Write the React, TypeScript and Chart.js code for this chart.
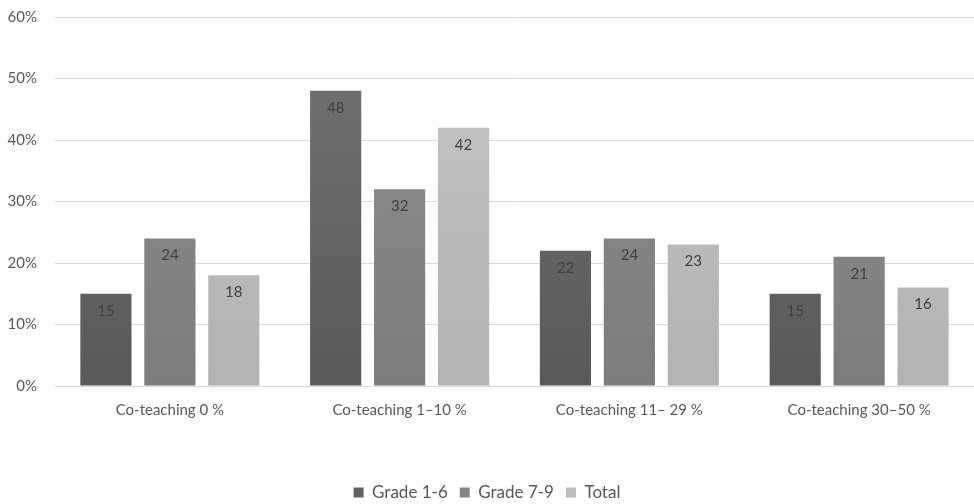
import React, { useEffect, useRef } from "react";
import { Chart, registerables } from "chart.js";

Chart.register(...registerables);

const categories = ["Co-teaching 0 %", "Co-teaching 1\u201310 %", "Co-teaching 11\u2013 29 %", "Co-teaching 30\u201350 %"];
const grade16 = [15, 48, 22, 15];
const grade79 = [24, 32, 24, 21];
const total = [18, 42, 23, 16];
const yTicks = [0, 10, 20, 30, 40, 50, 60];

const FONT = "Lato, 'Open Sans', sans-serif";

function grad(top: string, bottom: string) {
  return (ctx: any) => {
    const chart = ctx.chart;
    const area = chart.chartArea;
    if (!area) return top;
    const g = chart.ctx.createLinearGradient(0, area.top, 0, area.bottom);
    g.addColorStop(0, top);
    g.addColorStop(1, bottom);
    return g;
  };
}

const valueLabels = {
  id: "valueLabels",
  afterDatasetsDraw(chart: any) {
    const ctx = chart.ctx;
    ctx.save();
    ctx.font = `15px ${FONT}`;
    ctx.fillStyle = "#404040";
    ctx.textAlign = "center";
    ctx.textBaseline = "middle";
    chart.data.datasets.forEach((ds: any, i: number) => {
      const meta = chart.getDatasetMeta(i);
      meta.data.forEach((bar: any, j: number) => {
        ctx.fillText(String(ds.data[j]), bar.x, bar.y + 17);
      });
    });
    ctx.restore();
  },
};

export default function App() {
  const ref = useRef<HTMLCanvasElement>(null);
  useEffect(() => {
    if (!ref.current) return;
    const chart = new Chart(ref.current, {
      type: "bar",
      data: {
        labels: categories,
        datasets: [
          { label: "Grade 1-6", data: grade16, backgroundColor: grad("#737373", "#595959") as any },
          { label: "Grade 7-9", data: grade79, backgroundColor: grad("#909090", "#7c7c7c") as any },
          { label: "Total", data: total, backgroundColor: grad("#c6c6c6", "#b2b2b2") as any },
        ],
      },
      options: {
        animation: false,
        responsive: false,
        layout: { padding: { left: 0, right: 0, top: 17, bottom: -7 } },
        datasets: { bar: { categoryPercentage: 0.835, barPercentage: 0.8 } },
        plugins: {
          tooltip: { enabled: false },
          legend: {
            position: "bottom",
            labels: {
              boxWidth: 10,
              boxHeight: 10,
              padding: 12,
              color: "#595959",
              font: { family: FONT, size: 17 },
              generateLabels: (chart: any) => {
                const cols = ["#626262", "#858585", "#bcbcbc"];
                return chart.data.datasets.map((ds: any, i: number) => ({
                  text: ds.label,
                  fillStyle: cols[i],
                  strokeStyle: cols[i],
                  lineWidth: 0,
                  datasetIndex: i,
                  fontColor: "#595959",
                }));
              },
            },
          },
        },
        scales: {
          x: {
            grid: { display: false, drawTicks: false },
            border: { display: true, color: "#d9d9d9" },
            ticks: { color: "#595959", font: { family: FONT, size: 15 }, padding: 15 },
            afterFit: (scale: any) => {
              scale.height += 38;
            },
          },
          y: {
            min: 0,
            max: 60,
            afterBuildTicks: (scale: any) => {
              scale.ticks = yTicks.map((v) => ({ value: v }));
            },
            afterFit: (scale: any) => {
              scale.width = 55;
              scale.paddingTop = 0;
              scale.paddingBottom = 0;
            },
            grid: { color: "#d9d9d9", drawTicks: false },
            border: { display: false },
            ticks: {
              color: "#595959",
              font: { family: FONT, size: 15 },
              padding: 18,
              callback: (v: any) => `${v}%`,
            },
          },
        },
      },
      plugins: [valueLabels],
    });
    return () => chart.destroy();
  }, []);
  return (
    <div style={{ position: "fixed", left: 0, top: 0, width: 974, height: 504, background: "#fff" }}>
      <canvas ref={ref} width={974} height={504} style={{ width: 974, height: 504 }} />
    </div>
  );
}
